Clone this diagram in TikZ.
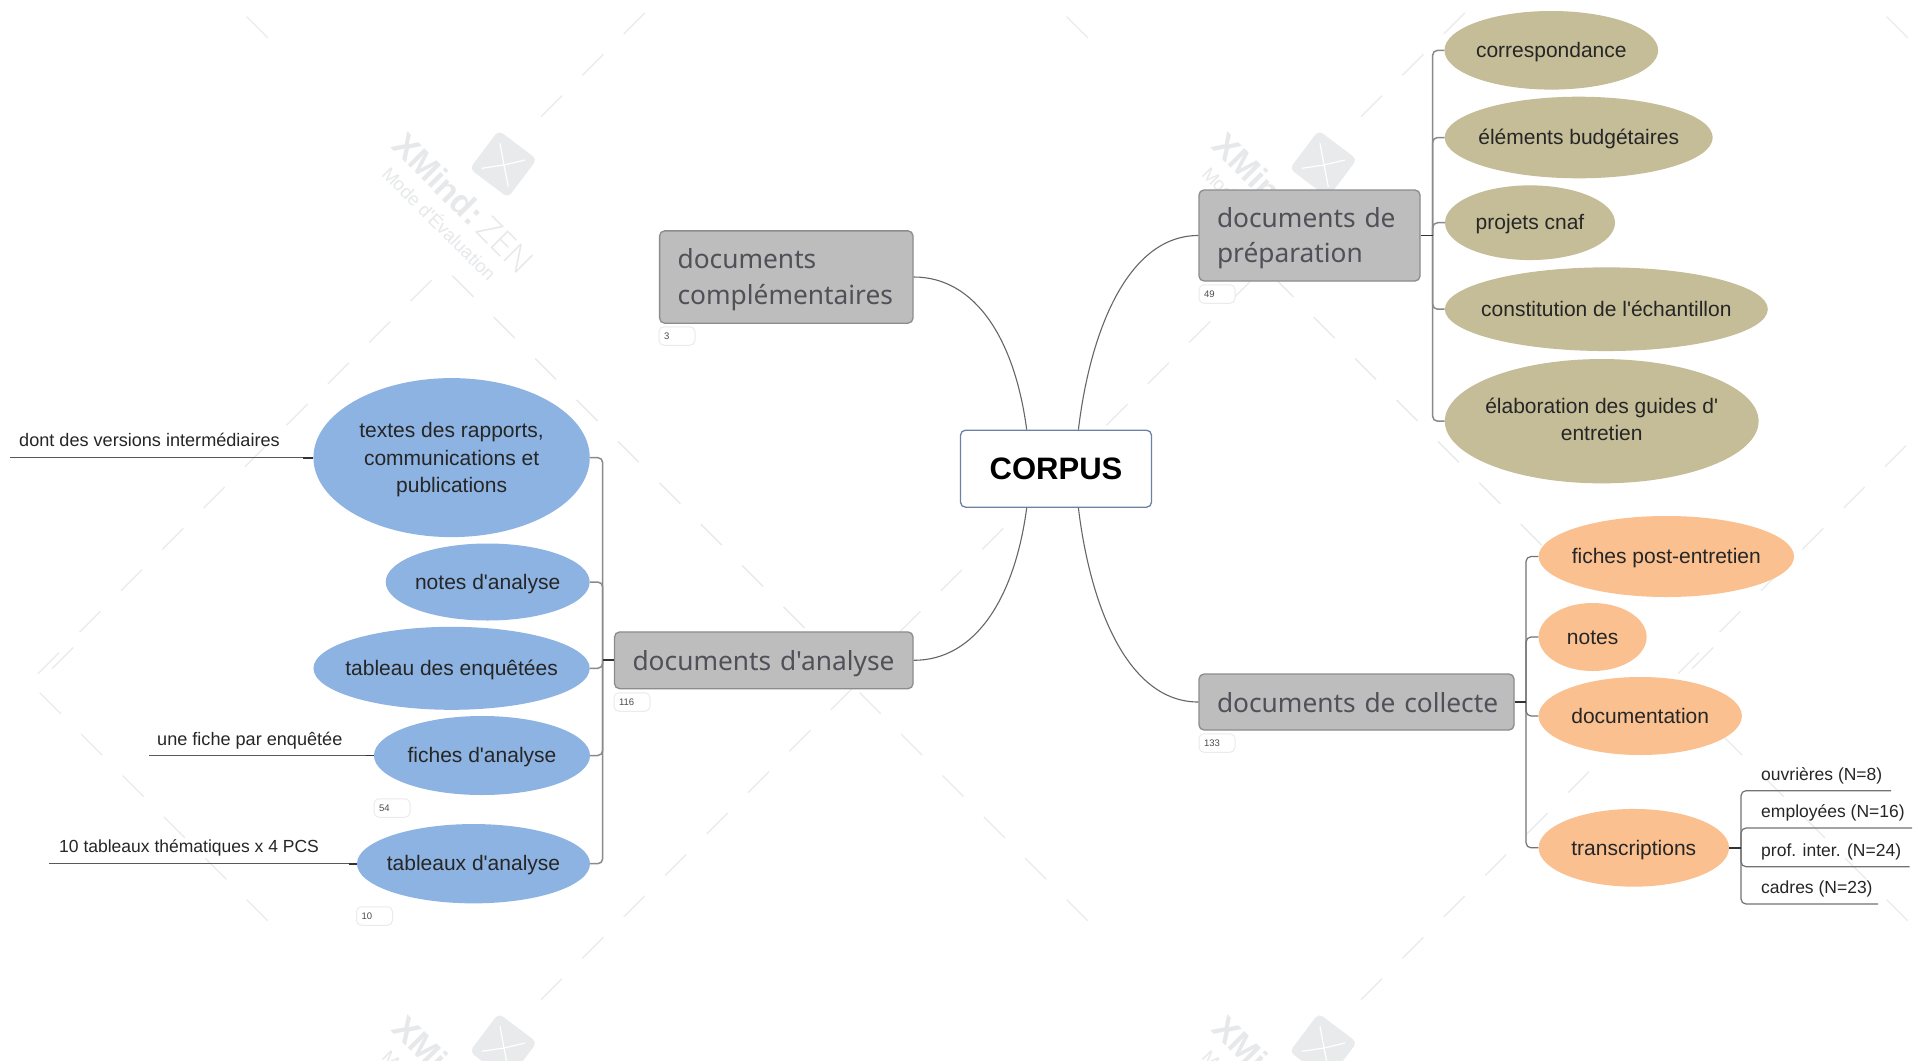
\documentclass[tikz,border=0pt]{standalone}
\usepackage{fontspec}
\setmainfont{Liberation Sans}
\newfontfamily\leaffont{Liberation Sans}
\newfontfamily\boxfont{Noto Sans}
\newfontfamily\wmlight{Open Sans Light}
\usetikzlibrary{shapes.geometric}
\newcommand\leafline[1]{\hbox to 0pt{\hss #1\hss}}
\definecolor{boxgray}{HTML}{BDBDBD}
\definecolor{boxedge}{HTML}{8C8C8C}
\definecolor{boxtext}{HTML}{505058}
\definecolor{rootedge}{HTML}{6F80A5}
\definecolor{bluefill}{HTML}{8DB3E2}
\definecolor{tanfill}{HTML}{C4BD97}
\definecolor{orangefill}{HTML}{FAC08F}
\definecolor{wmgray}{HTML}{E8EAEC}
\definecolor{wmtext}{HTML}{E6E8EA}
\definecolor{conngray}{HTML}{8A8A8A}
\tikzset{
  rootbox/.style={draw=rootedge,line width=1.3pt,fill=white,rounded corners=5pt,inner sep=0pt,font=\leaffont\fontsize{31}{36}\selectfont\bfseries,text=black},
  topicbox/.style={draw=boxedge,line width=1.3pt,fill=boxgray,rounded corners=5pt,inner xsep=18pt,inner ysep=0pt,align=left,text=boxtext,font=\boxfont\fontsize{26.3}{35.7}\selectfont},
  topicone/.style={topicbox,text height=21pt,text depth=0pt},
  topictwo/.style={topicbox,text height=20pt,text depth=37pt},
  leafshape/.style={ellipse,inner sep=0pt,align=center,text=black!85,font=\leaffont\fontsize{21}{27.5}\selectfont},
  leafone/.style={text height=16pt,text depth=1.6pt},
  blueleaf/.style={leafshape,fill=bluefill},
  tanleaf/.style={leafshape,fill=tanfill},
  orangeleaf/.style={leafshape,fill=orangefill},
  badge/.style={draw=black!8,line width=1pt,fill=white,rounded corners=5pt,minimum width=36pt,minimum height=18.5pt,inner xsep=5pt,inner ysep=0pt,text=black!70,font=\leaffont\fontsize{9.5}{11}\selectfont,text width=26pt,align=left},
  detail/.style={anchor=west,inner sep=0pt,text=black!85,text height=14pt,text depth=2pt,font=\leaffont\fontsize{17.5}{21}\selectfont},
  detailwide/.style={detail,font=\leaffont\fontsize{18.1}{21}\selectfont},
  curveconn/.style={draw=black!60,line width=1.1pt},
  trunkconn/.style={draw=conngray,line width=1.5pt,rounded corners=5pt},
  stubconn/.style={draw=black!80,line width=1.8pt},
  detailconn/.style={draw=black!65,line width=1.2pt},
  wmline/.style={draw=wmgray,line width=1.3pt,dash pattern=on 29.7pt off 28.85pt},
}
\begin{document}
\begin{tikzpicture}[x=1pt,y=-1pt]
\useasboundingbox (0,0) rectangle (1926,1060);
\fill[white] (0,0) rectangle (1926,1060);
% watermark
\begin{scope}
\clip (37,0) rectangle (1926,1060);
\foreach \i in {-1,0,1,2,3}{\foreach \j in {0,1}{
  \begin{scope}[shift={({820*\i},{883*\j})}]
    \draw[wmline] (267.7,37.7) -- +(-228,-228);
    \draw[wmline] (452.3,275.7) -- +(352.2,352.2);
    \draw[wmline] (541,116.7) -- +(352.2,-352.2);
    \draw[wmline] (431.7,280) -- +(-393.6,393.6);
  \end{scope}
}}
\foreach \i in {0,1}{\foreach \j in {0,1}{
  \begin{scope}[shift={({820*\i},{883*\j})}]
    \node[fill=wmgray,rounded corners=5pt,minimum size=48pt,inner sep=0pt,rotate=-37] (logo\i\j) at (503.3,164) {};
    \draw[white,line width=1.2pt] (500,143.3) -- (504,165) -- (508.3,186.7);
    \draw[white,line width=1.2pt] (481.7,168.3) -- (504,165) -- (525,160);
    \node[rotate=-45,text=wmtext,inner sep=0pt,font=\leaffont\fontsize{34}{40}\selectfont] (wma\i\j) at (463,203) {\textbf{XMind:}\,{\wmlight ZEN}};
    \node[rotate=-45,text=wmtext,inner sep=0pt,font=\leaffont\fontsize{18.5}{22}\selectfont] (wmb\i\j) at (440,223) {Mode d'Évaluation};
  \end{scope}
}}
\end{scope}

% root
\node[rootbox,minimum width=191pt,minimum height=77pt] (corpus) at (1056,468.7) {CORPUS};

% topics
\node[topictwo,text width=217.4pt,minimum height=92.3pt] (compl) at (786.3,277) {\mbox{documents}\\\mbox{complémentaires}};
\node[topictwo,text width=185pt,minimum height=91pt] (prep) at (1309.5,235.5) {\mbox{documents de}\\\mbox{préparation}};
\node[topicone,text width=262.5pt,minimum height=56.7pt] (analyse) at (763.8,660.3) {\mbox{documents d'analyse}};
\node[topicone,text width=279pt,minimum height=56pt] (collecte) at (1356.5,702) {\mbox{documents de collecte}};

% badges
\node[badge] (b3) at (677,336) {3};
\node[badge] (b49) at (1217,294) {49};
\node[badge] (b116) at (632,702) {116};
\node[badge] (b133) at (1217,743) {133};
\node[badge] (b54) at (392,808) {54};
\node[badge] (b10) at (374.5,916) {10};

% tan leaves
\node[tanleaf,leafone,minimum width=213.7pt,minimum height=78.6pt] (cor) at (1551.3,50.3) {\leafline{correspondance}};
\node[tanleaf,leafone,minimum width=268pt,minimum height=81.6pt] (bud) at (1578.7,137.5) {\leafline{éléments budgétaires}};
\node[tanleaf,leafone,minimum width=170pt,minimum height=74.7pt] (cnaf) at (1530,222.7) {\leafline{projets cnaf}};
\node[tanleaf,leafone,minimum width=323pt,minimum height=83.7pt] (ech) at (1606.3,309.2) {\leafline{constitution de l'échantillon}};
\node[tanleaf,minimum width=313.8pt,minimum height=124.3pt] (gui) at (1601.7,421.2) {\leafline{élaboration des guides d'}\\\leafline{entretien}\rule[-4pt]{0pt}{0pt}};

% orange leaves
\node[orangeleaf,leafone,minimum width=255.4pt,minimum height=81pt] (post) at (1666.3,556.5) {\leafline{fiches post-entretien}};
\node[orangeleaf,leafone,minimum width=108pt,minimum height=68pt] (notes) at (1592.6,637) {\leafline{notes}};
\node[orangeleaf,leafone,minimum width=203.3pt,minimum height=78pt] (docu) at (1640.2,716) {\leafline{documentation}};
\node[orangeleaf,leafone,minimum width=190.4pt,minimum height=77.7pt] (trans) at (1633.8,847.8) {\leafline{transcriptions}};

% blue leaves
\node[blueleaf,minimum width=276.3pt,minimum height=159pt] (textes) at (451.6,457.6) {\leafline{textes des rapports,}\rule{0pt}{20pt}\\\leafline{communications et}\\\leafline{publications}};
\node[blueleaf,leafone,minimum width=204pt,minimum height=77pt] (nan) at (487.7,582) {\leafline{notes d'analyse}};
\node[blueleaf,leafone,minimum width=276.3pt,minimum height=83pt] (tenq) at (451.6,668.3) {\leafline{tableau des enquêtées}};
\node[blueleaf,leafone,minimum width=216pt,minimum height=79pt] (fan) at (482,755.5) {\leafline{fiches d'analyse}};
\node[blueleaf,leafone,minimum width=233pt,minimum height=79.3pt] (tan) at (473.5,863.7) {\leafline{tableaux d'analyse}};

% detail labels
\node[detailwide] (d1) at (19,440.7) {dont des versions intermédiaires};
\node[detailwide] (d2) at (157,739) {une fiche par enquêtée};
\node[detail] (d3) at (59,846.5) {10 tableaux thématiques x 4 PCS};
\node[detail] (s1) at (1761,774) {ouvrières (N=8)};
\node[detail] (s2) at (1761,811.7) {employées (N=16)};
\node[detail] (s3) at (1761,850.7) {prof. inter. (N=24)};
\node[detail] (s4) at (1761,887.7) {cadres (N=23)};

% curved connectors
\draw[curveconn] ([xshift=-29.3pt]corpus.north) .. controls +(-12,-90) and +(62,0) .. (compl.east);
\draw[curveconn] ([xshift=22.4pt]corpus.north) .. controls +(12,-100) and +(-70,0) .. (prep.west);
\draw[curveconn] ([xshift=-29.3pt]corpus.south) .. controls +(-12,90) and +(62,0) .. (analyse.east);
\draw[curveconn] ([xshift=22.4pt]corpus.south) .. controls +(12,100) and +(-70,0) .. (collecte.west);

% free ends of connectors
\coordinate (tp) at (1432.6,235.5);
\coordinate (tc) at (1526,702);
\coordinate (ta) at (602.7,660.3);
\coordinate (ts) at (1741,847.8);
\coordinate (l1) at (10,457.6);
\coordinate (l2) at (149,755.5);
\coordinate (l3) at (49.4,863.7);
\coordinate (e1) at (1891,790.7);
\coordinate (e2) at (1912,828);
\coordinate (e3) at (1909.5,866.7);
\coordinate (e4) at (1878,904);

% preparation branch
\foreach \n in {cor,bud,cnaf,ech,gui}{\draw[trunkconn] (tp) |- (\n.west);}
\draw[stubconn] (prep.east) -- (tp);
% collecte branch
\foreach \n in {post,notes,docu,trans}{\draw[trunkconn,line width=1.2pt,draw=black!55] (tc) |- (\n.west);}
\draw[stubconn] (collecte.east) -- (tc);
% analyse branch
\foreach \n in {textes,nan,tenq,fan,tan}{\draw[trunkconn] (ta) |- (\n.east);}
\draw[stubconn] (analyse.west) -- (ta);
% transcriptions branch
\foreach \n in {e1,e2,e3,e4}{\draw[trunkconn,line width=1.2pt,draw=black!55] (ts) |- (\n);}
\draw[stubconn] (trans.east) -- (ts);
% details
\draw[detailconn] (textes.west) -- (l1);
\draw[detailconn] (fan.west) -- (l2);
\draw[detailconn] (tan.west) -- (l3);
\draw[stubconn] (textes.west) -- +(-10,0);
\draw[stubconn] (fan.west) -- +(-8,0);
\draw[stubconn] (tan.west) -- +(-8,0);
\end{tikzpicture}
\end{document}
